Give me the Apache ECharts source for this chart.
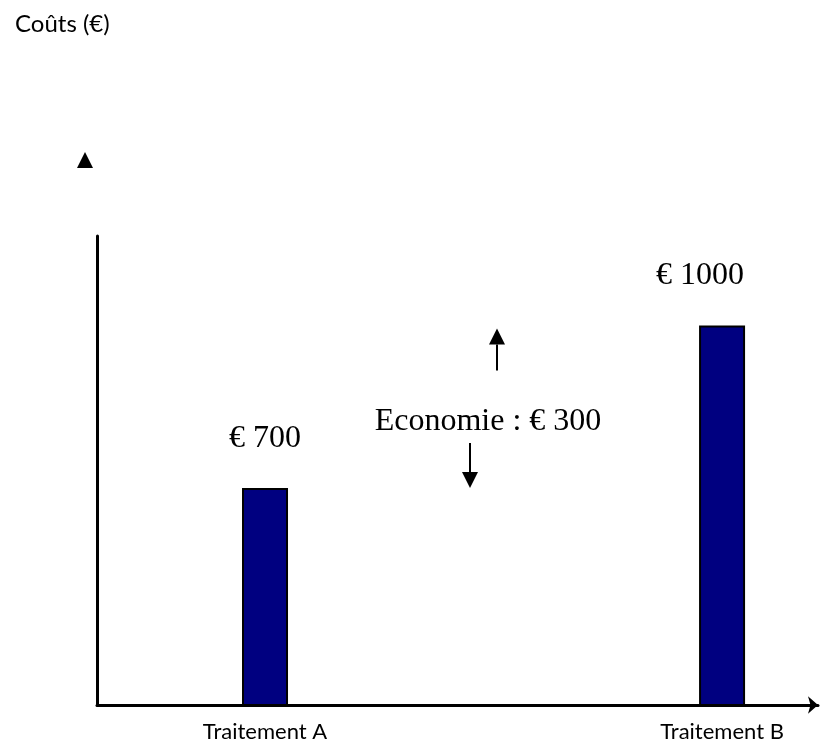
<!DOCTYPE html>
<html>
<head>
<meta charset="utf-8">
<script src="https://cdn.jsdelivr.net/npm/echarts@6/dist/echarts.min.js"></script>
<style>
  html, body { margin: 0; padding: 0; background: #fff; }
  #chart { width: 822px; height: 745px; }
</style>
</head>
<body>
<div id="chart"></div>
<script>
// Two treatments and their costs in euros
const categories = ['Traitement A', 'Traitement B'];
const costs = [700, 1000];
const axisTitle = 'Coûts (€)';
const savingsLabel = 'Economie';

const savings = costs[1] - costs[0];
const serif = 'Liberation Serif';
const sans = 'Lato';

const chart = echarts.init(document.getElementById('chart'), null, { renderer: 'canvas' });

const option = {
  animation: false,
  backgroundColor: '#fff',
  title: {
    text: axisTitle,
    left: 10,
    top: 7,
    textStyle: { fontFamily: sans, fontWeight: 'normal', fontSize: 24, color: '#000' }
  },
  grid: { left: 97, right: 4, top: 236, bottom: 40 },
  xAxis: {
    type: 'value',
    min: -0.3676,
    max: 1.2099,
    z: 5,
    axisLine: {
      show: true,
      onZero: false,
      symbol: ['none', 'arrow'],
      symbolSize: [13, 10],
      lineStyle: { color: '#000', width: 3 }
    },
    axisTick: { show: false },
    splitLine: { show: false },
    axisLabel: {
      customValues: categories.map((_, i) => i),
      formatter: v => categories[Math.round(v)] || '',
      margin: 16,
      fontFamily: sans,
      fontSize: 22,
      color: '#000'
    }
  },
  yAxis: {
    type: 'value',
    min: 300,
    max: 1165,
    z: 5,
    axisLine: { show: true, onZero: false, lineStyle: { color: '#000', width: 3 } },
    axisTick: { show: false },
    axisLabel: { show: false },
    splitLine: { show: false }
  },
  series: [{
    type: 'bar',
    barWidth: 46,
    clip: true,
    itemStyle: { color: '#000080', borderColor: '#000', borderWidth: 2 },
    label: {
      show: true,
      position: 'top',
      distance: 34,
      fontFamily: serif,
      fontSize: 32,
      color: '#000',
      formatter: p => '€ ' + p.value[1]
    },
    data: costs.map((v, i) => ({
      value: [i, v],
      label: { offset: [i === 1 ? -22 : 0, 0] }
    }))
  }]
};

chart.setOption(option);

// Savings annotation: arrows reach the levels of the two costs
const yHigh = chart.convertToPixel({ yAxisIndex: 0 }, costs[1]);
const yLow = chart.convertToPixel({ yAxisIndex: 0 }, costs[0]);

function arrow(x, tipY, length, dir) {
  // dir = -1 points up, +1 points down
  const head = 16, half = 8;
  const baseY = tipY - dir * head;
  const tailY = tipY - dir * length;
  return {
    type: 'group',
    children: [
      { type: 'line', shape: { x1: x, y1: tailY, x2: x, y2: baseY }, style: { stroke: '#000', lineWidth: 2 } },
      { type: 'polygon', shape: { points: [[x - half, baseY], [x + half, baseY], [x, tipY]] }, style: { fill: '#000' } }
    ]
  };
}

chart.setOption({
  graphic: [
    arrow(497, yHigh + 3, 42, -1),
    arrow(470, yLow, 45, 1),
    {
      type: 'text',
      x: 488,
      y: 422,
      style: {
        text: savingsLabel + ' : € ' + savings,
        font: '32px "' + serif + '"',
        fill: '#000',
        textAlign: 'center',
        textVerticalAlign: 'middle'
      }
    },
    {
      type: 'polygon',
      shape: { points: [[77, 168], [93, 168], [85, 152]] },
      style: { fill: '#000' }
    }
  ]
});
</script>
</body>
</html>
